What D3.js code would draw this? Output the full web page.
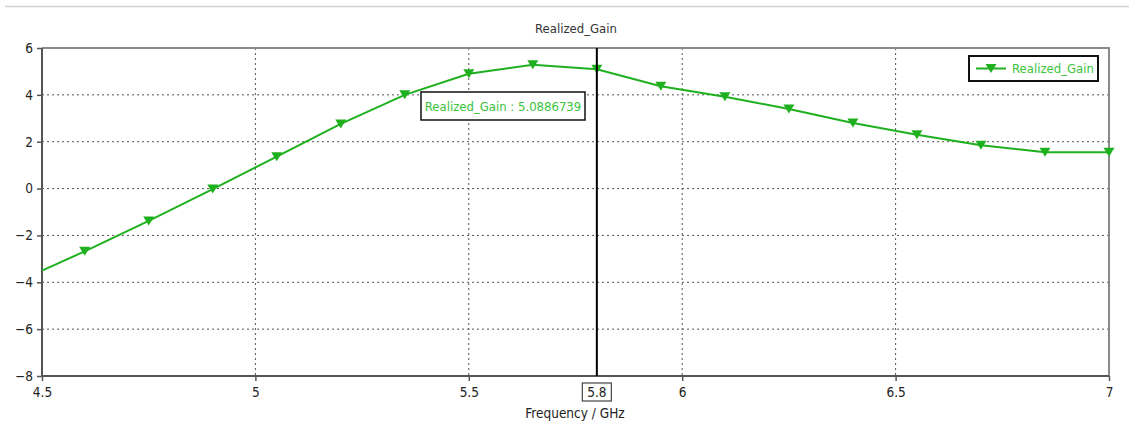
<!DOCTYPE html>
<html><head><meta charset="utf-8">
<script src="https://cdn.jsdelivr.net/npm/d3@7"></script>
<style>
html,body{margin:0;padding:0;background:#fff;}
svg{display:block;font-family:"DejaVu Sans Condensed","DejaVu Sans",sans-serif;}
</style></head>
<body>
<svg id="chart" width="1129" height="426"></svg>
<script>
// ---- data ----
const frequency = [4.5, 4.6, 4.75, 4.9, 5.05, 5.2, 5.35, 5.5, 5.65, 5.8, 5.95, 6.1, 6.25, 6.4, 6.55, 6.7, 6.85, 7.0];
const realizedGain = [-3.5, -2.68, -1.38, -0.02, 1.36, 2.76, 4.0, 4.9, 5.28, 5.0886739, 4.37, 3.92, 3.4, 2.8, 2.3, 1.85, 1.55, 1.55];
const markerFreqs = [4.6, 4.75, 4.9, 5.05, 5.2, 5.35, 5.5, 5.65, 5.8, 5.95, 6.1, 6.25, 6.4, 6.55, 6.7, 6.85, 7.0];
const xTicks = [4.5, 5, 5.5, 6, 6.5, 7];
const yTicks = [-8, -6, -4, -2, 0, 2, 4, 6];
const markerFreq = 5.8;
const markerValue = 5.0886739;
const seriesName = "Realized_Gain";

const W = 1129, H = 426;
const L = 42, R = 1109, T = 48, B = 376;
const green = "#1fb01f", textGreen = "#3cc43c";

const svg = d3.select("#chart");
const x = d3.scaleLinear().domain([4.5, 7]).range([L, R]);
const y = d3.scaleLinear().domain([-8, 6]).range([B, T]);

// top separator
svg.append("line").attr("x1", 5).attr("x2", W).attr("y1", 6.5).attr("y2", 6.5)
  .attr("stroke", "#cfcfcf").attr("stroke-width", 1.5);

// title
svg.append("text").attr("x", 576).attr("y", 33).attr("text-anchor", "middle")
  .attr("font-size", 13).attr("fill", "#333").text(seriesName);

// grid
svg.append("g").selectAll("line").data(xTicks.filter(d => d > 4.5 && d < 7)).join("line")
  .attr("x1", d => x(d)).attr("x2", d => x(d)).attr("y1", T).attr("y2", B)
  .attr("stroke", "#555").attr("stroke-width", 1).attr("stroke-dasharray", "2,3");
svg.append("g").selectAll("line").data(yTicks.filter(d => d > -8 && d < 6)).join("line")
  .attr("x1", L).attr("x2", R).attr("y1", d => y(d)).attr("y2", d => y(d))
  .attr("stroke", "#555").attr("stroke-width", 1).attr("stroke-dasharray", "2,3");

// top & right border
svg.append("path").attr("d", `M${L},${T}H${R}V${B}`).attr("fill", "none")
  .attr("stroke", "#8a8a8a").attr("stroke-width", 2);

// axes
const yAxis = svg.append("g").attr("transform", `translate(${L},0)`)
  .call(d3.axisLeft(y).tickValues(yTicks).tickSize(5).tickPadding(4).tickFormat(d3.format("d")));
const xAxis = svg.append("g").attr("transform", `translate(0,${B})`)
  .call(d3.axisBottom(x).tickValues(xTicks).tickSize(5).tickPadding(6).tickFormat(d => String(d)));
[yAxis, xAxis].forEach(a => {
  a.select(".domain").attr("stroke", "#555").attr("stroke-width", 2);
  a.selectAll(".tick line").attr("stroke", "#555").attr("stroke-width", 1.5);
  a.selectAll(".tick text").attr("fill", "#222").attr("font-size", 13.5)
   .attr("font-family", "DejaVu Sans Condensed, DejaVu Sans, sans-serif");
});
yAxis.select(".domain").attr("d", `M0,${T}V${B}`);
xAxis.select(".domain").attr("d", `M${L},0H${R}`);

// curve
const pts = frequency.map((f, i) => [f, realizedGain[i]]);
svg.append("path").datum(pts)
  .attr("d", d3.line().x(d => x(d[0])).y(d => y(d[1])).curve(d3.curveLinear))
  .attr("fill", "none").attr("stroke", green).attr("stroke-width", 2);

// markers
const tri = "M-5.5,-4.5L5.5,-4.5L0,4.5Z";
const mPts = pts.filter(p => markerFreqs.some(m => Math.abs(m - p[0]) < 1e-9));
svg.append("g").selectAll("path").data(mPts).join("path")
  .attr("transform", d => `translate(${x(d[0])},${y(d[1])})`)
  .attr("d", tri).attr("fill", green);

// vertical marker line
svg.append("line").attr("x1", x(markerFreq)).attr("x2", x(markerFreq)).attr("y1", T).attr("y2", B)
  .attr("stroke", "#000").attr("stroke-width", 2);

// 5.8 boxed label on the axis
const mx = x(markerFreq);
svg.append("rect").attr("x", mx - 14.5).attr("y", 383).attr("width", 29).attr("height", 18)
  .attr("fill", "#fff").attr("stroke", "#444").attr("stroke-width", 1.2);
svg.append("text").attr("x", mx).attr("y", 397).attr("text-anchor", "middle")
  .attr("font-size", 13.5).attr("fill", "#222").text(String(markerFreq));

// axis title
svg.append("text").attr("x", 575).attr("y", 418).attr("text-anchor", "middle")
  .attr("font-size", 13.5).attr("fill", "#222").text("Frequency / GHz");

// annotation box
svg.append("rect").attr("x", 421).attr("y", 92).attr("width", 164).attr("height", 28)
  .attr("fill", "#fff").attr("stroke", "#111").attr("stroke-width", 1.5);
svg.append("text").attr("x", 503).attr("y", 111).attr("text-anchor", "middle")
  .attr("font-size", 13).attr("fill", textGreen).text(`${seriesName} : ${markerValue}`);

// legend
svg.append("rect").attr("x", 969).attr("y", 56).attr("width", 129).attr("height", 25)
  .attr("fill", "#fff").attr("stroke", "#111").attr("stroke-width", 2);
svg.append("line").attr("x1", 976).attr("x2", 1006).attr("y1", 68.5).attr("y2", 68.5)
  .attr("stroke", green).attr("stroke-width", 2);
svg.append("path").attr("transform", "translate(991,68.5)").attr("d", tri).attr("fill", green);
svg.append("text").attr("x", 1012).attr("y", 73).attr("font-size", 13)
  .attr("fill", textGreen).text(seriesName);
</script>
</body></html>
